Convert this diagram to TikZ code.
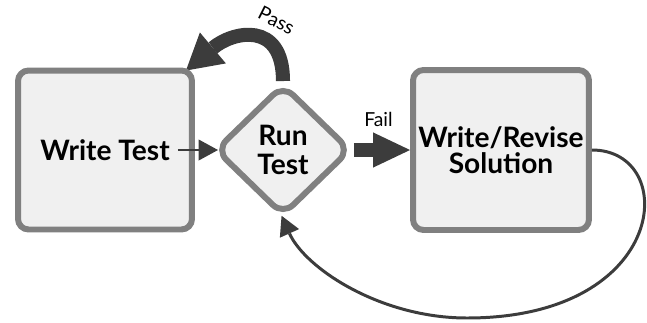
\documentclass[tikz,border=0pt]{standalone}
\usepackage{fontspec}
\setmainfont{Lato}
\usetikzlibrary{shapes.geometric, arrows.meta, backgrounds}
\definecolor{boxline}{HTML}{808080}
\definecolor{boxfill}{HTML}{F0F0F0}
\definecolor{arrowc}{HTML}{3C3C3C}
\tikzset{stepbox/.style={rectangle, rounded corners=6pt, draw=boxline, fill=boxfill, line width=3.4pt, inner sep=0pt, align=center, font=\fontsize{16}{15}\selectfont\bfseries}}
\tikzset{decide/.style={diamond, rounded corners=8pt, draw=boxline, fill=boxfill, line width=3.4pt, inner sep=0pt, align=center, font=\fontsize{16}{17}\selectfont\bfseries}}
\tikzset{fat/.style={draw=arrowc, line width=8pt, -{Triangle[length=21pt, width=20pt, line width=0pt]}}}
\tikzset{slim/.style={draw=arrowc, line width=1.7pt, -{Triangle[length=11pt, width=12pt, line width=0pt]}}}
\tikzset{edgelabel/.style={font=\fontsize{11}{13}\selectfont, text=black}}

\begin{document}
\begin{tikzpicture}[x=0.02cm, y=-0.02cm]
        \useasboundingbox (0,0) rectangle (647,322);

        % the three steps
        \node[stepbox, minimum width=3.48cm, minimum height=3.18cm] (write) at (105,150) {Write Test};
        \node[decide, minimum width=2.72cm, minimum height=2.64cm] (run) at (283,150) {Run\\Test};
        \node[stepbox, minimum width=3.52cm, minimum height=3.2cm] (solve) at (501,150) {Write/Revise\\Solution};

        \draw[slim, shorten >=-3.4pt] ([xshift=-0.34cm]write.east) -- (run.west);
        \draw[fat] (run.east) -- node[edgelabel, above=6pt, xshift=-2pt] {Fail} (solve.west);

        \begin{scope}[on background layer]
        \draw[fat, -{Triangle[length=20pt, width=23pt, line width=0pt]}] (run.north) to[out=90, in=40, looseness=1.6] node[edgelabel, pos=0.36, sloped, above=2pt] {Pass} ([shift={(-9,3)}]write.north east);
        \end{scope}

        % back round to the test run
        \coordinate (loop) at (467,318);
        \draw[slim, shorten >=-2pt] (solve.east) .. controls (680,150) and (670,318) .. (loop)
            .. controls (380,318) and (305,268) .. (run.south);
\end{tikzpicture}
\end{document}
